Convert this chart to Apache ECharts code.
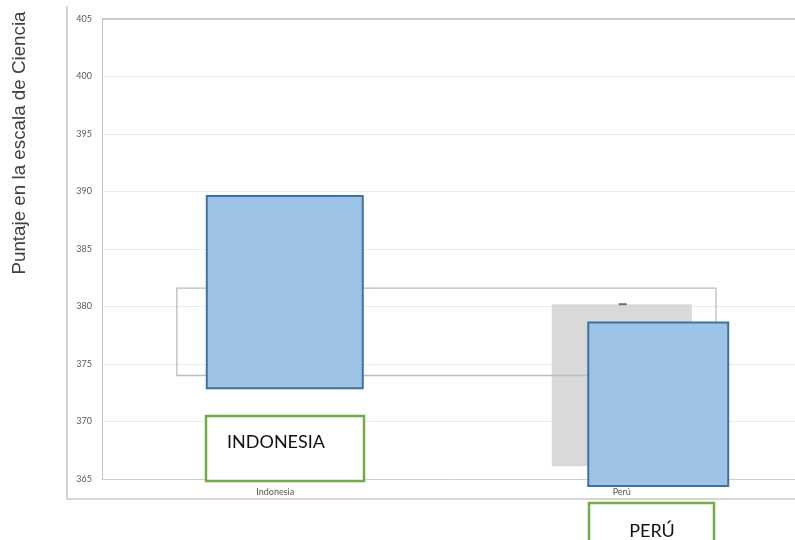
<!DOCTYPE html>
<html>
<head>
<meta charset="utf-8">
<script src="https://cdn.jsdelivr.net/npm/echarts@6/dist/echarts.min.js"></script>
<style>
  html, body { margin: 0; padding: 0; background: #ffffff; }
  #chart { width: 795px; height: 540px; }
</style>
</head>
<body>
<div id="chart"></div>
<script>
// Countries on the horizontal axis
const categories = ['Indonesia', 'Perú'];

// Score axis ticks
const yMin = 365;
const yMax = 405;
const yStep = 5;

// Score interval per country (blue boxes)
const scoreLow = [372.9, 364.4];
const scoreHigh = [389.6, 378.6];

// Grey reference interval and its mark (Perú only)
const refLow = [null, 366.1];
const refHigh = [null, 380.2];
const refMark = [null, 380.2];

// Band shared by both countries
const bandLow = [374.0];
const bandHigh = [381.6];

// Annotation captions
const captions = ['INDONESIA', 'PERÚ'];

// ---- drawing layout (pixels) ----
const blueBox = [{ dx: 9.5, w: 156 }, { dx: 36.5, w: 140 }];
const greyBoxWidth = 140;
const bandSpan = { left: 0.284, right: 0.272 }; // share of a category slot

const chart = echarts.init(document.getElementById('chart'), null, { renderer: 'canvas' });

const blueData = categories.map((c, i) => [i, scoreLow[i], scoreHigh[i]]);
const greyData = categories.map((c, i) => [i, refLow[i], refHigh[i]]).filter(d => d[1] != null);
const markData = categories.map((c, i) => [i, refMark[i]]).filter(d => d[1] != null);
const bandData = [[0, categories.length - 1, bandLow[0], bandHigh[0]]];

const option = {
  animation: false,
  backgroundColor: '#ffffff',
  grid: { left: 102, right: -1, top: 19, bottom: 61, containLabel: false },
  xAxis: {
    type: 'category',
    data: categories,
    axisLine: { show: true, lineStyle: { color: '#cfcfcf', width: 1 } },
    axisTick: { show: false },
    axisLabel: { fontSize: 9, color: '#595959', fontFamily: 'Lato', margin: 9 },
    splitLine: { show: false }
  },
  yAxis: {
    type: 'value',
    min: yMin,
    max: yMax,
    interval: yStep,
    axisLine: { show: true, lineStyle: { color: '#c4c4c4', width: 1 } },
    axisTick: { show: false },
    axisLabel: { fontSize: 9, color: '#595959', fontFamily: 'Lato', margin: 10 },
    splitLine: { show: true, lineStyle: { color: '#ebebeb', width: 1 } }
  },
  series: [
    {
      // grey reference interval
      type: 'custom',
      z: 2,
      data: greyData,
      renderItem: function (params, api) {
        const i = api.value(0);
        const top = api.coord([i, api.value(2)]);
        const bot = api.coord([i, api.value(1)]);
        return {
          type: 'rect',
          shape: { x: top[0] - greyBoxWidth / 2, y: top[1], width: greyBoxWidth, height: bot[1] - top[1] },
          style: { fill: '#d9d9d9' }
        };
      }
    },
    {
      // shared band outline
      type: 'custom',
      z: 3,
      data: bandData,
      renderItem: function (params, api) {
        const slot = api.size([1, 0])[0];
        const a = api.coord([api.value(0), api.value(3)]);
        const b = api.coord([api.value(1), api.value(2)]);
        const x0 = a[0] - bandSpan.left * slot;
        const x1 = b[0] + bandSpan.right * slot;
        return {
          type: 'rect',
          shape: { x: x0, y: a[1], width: x1 - x0, height: b[1] - a[1] },
          style: { fill: 'none', stroke: '#b3bfcb', lineWidth: 1.3 }
        };
      }
    },
    {
      // country score boxes
      type: 'custom',
      z: 4,
      data: blueData,
      renderItem: function (params, api) {
        const i = api.value(0);
        const top = api.coord([i, api.value(2)]);
        const bot = api.coord([i, api.value(1)]);
        const L = blueBox[i];
        return {
          type: 'rect',
          shape: { x: top[0] + L.dx - L.w / 2, y: top[1], width: L.w, height: bot[1] - top[1] },
          style: { fill: '#9dc3e6', stroke: '#41719c', lineWidth: 2 }
        };
      }
    },
    {
      // reference mark
      type: 'scatter',
      z: 5,
      data: markData,
      symbol: 'rect',
      symbolSize: [8, 2],
      symbolOffset: [1, 0],
      itemStyle: { color: '#4b4b78' }
    }
  ],
  graphic: [
    // outer panel frame
    { type: 'line', z: 10, shape: { x1: 67, y1: 6, x2: 67, y2: 499 }, style: { stroke: '#d6d6d6', lineWidth: 2 } },
    { type: 'line', z: 10, shape: { x1: 66, y1: 499, x2: 795, y2: 499 }, style: { stroke: '#d6d6d6', lineWidth: 2 } },
    // plot top border
    { type: 'line', z: 10, shape: { x1: 102, y1: 19, x2: 795, y2: 19 }, style: { stroke: '#bdbdbd', lineWidth: 1.5 } },
    // vertical axis title
    {
      type: 'text', z: 10, x: 20, y: 143, rotation: Math.PI / 2,
      style: {
        text: 'Puntaje en la escala de Ciencia',
        fontFamily: 'Liberation Sans', fontSize: 18.8, fill: '#404040',
        textAlign: 'center', textVerticalAlign: 'middle'
      }
    },
    // INDONESIA caption
    { type: 'rect', z: 20, shape: { x: 206, y: 416, width: 158, height: 65 }, style: { fill: '#ffffff', stroke: '#70ad47', lineWidth: 2.5 } },
    {
      type: 'text', z: 21, x: 227, y: 442,
      style: { text: captions[0], fontFamily: 'Lato', fontSize: 18, fill: '#111111', textAlign: 'left', textVerticalAlign: 'middle' }
    },
    // PERÚ caption
    { type: 'rect', z: 20, shape: { x: 589, y: 503, width: 125, height: 60 }, style: { fill: '#ffffff', stroke: '#70ad47', lineWidth: 2.5 } },
    {
      type: 'text', z: 21, x: 652, y: 531,
      style: { text: captions[1], fontFamily: 'Lato', fontSize: 18, fill: '#111111', textAlign: 'center', textVerticalAlign: 'middle' }
    }
  ]
};

chart.setOption(option);
</script>
</body>
</html>
